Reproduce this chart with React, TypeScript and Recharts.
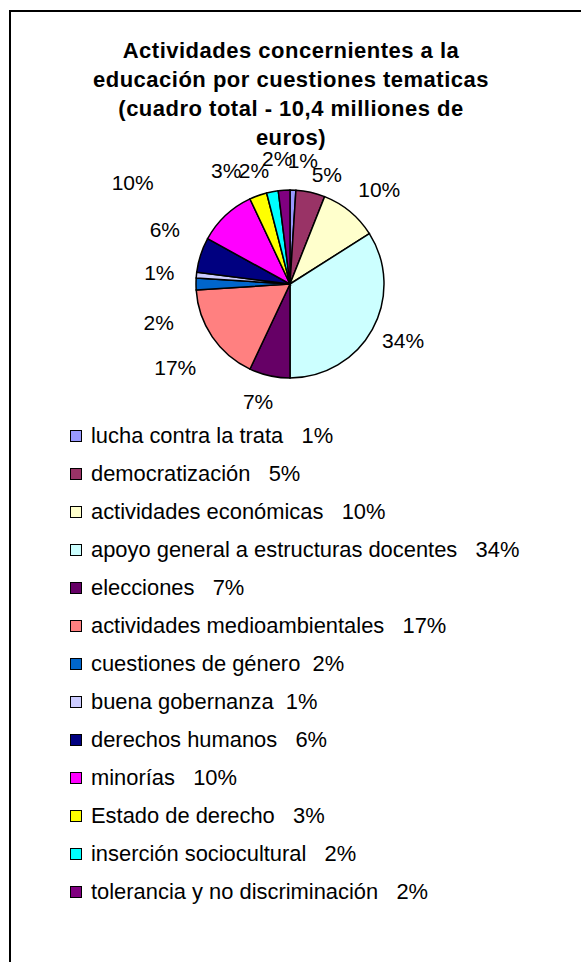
import React from "react";
import { PieChart, Pie, Cell } from "recharts";

const titleLines = [
  "Actividades concernientes a la",
  "educación por cuestiones tematicas",
  "(cuadro total - 10,4 milliones de",
  "euros)",
];

const names = [
  "lucha contra la trata",
  "democratización",
  "actividades económicas",
  "apoyo general a estructuras docentes",
  "elecciones",
  "actividades medioambientales",
  "cuestiones de género",
  "buena gobernanza",
  "derechos humanos",
  "minorías",
  "Estado de derecho",
  "inserción sociocultural",
  "tolerancia y no discriminación",
];

const values = [1, 5, 10, 34, 7, 17, 2, 1, 6, 10, 3, 2, 2];

const colors = [
  "#9999FF",
  "#993366",
  "#FFFFCC",
  "#CCFFFF",
  "#660066",
  "#FF8080",
  "#0066CC",
  "#CCCCFF",
  "#000080",
  "#FF00FF",
  "#FFFF00",
  "#00FFFF",
  "#800080",
];

const legendGaps = ["   ", "   ", "   ", "   ", "   ", "   ", "  ", "  ", "   ", "   ", "   ", "   ", "   "];

// layout nudges for the percentage labels (Excel moved them to avoid overlaps)
const labelNudges: [number, number][] = [
  [9, -8],
  [10, 4],
  [7, -5],
  [0, 1],
  [-5, 4],
  [-8, 18],
  [-8, 38],
  [-8, -1],
  [-8, -19],
  [-69, -17],
  [-22, -4],
  [-13, 0],
  [-5, -10],
];

const data = names.map((name, i) => ({ name, value: values[i] }));

const FONT = "'Liberation Sans', Arial, Helvetica, sans-serif";
const RADIAN = Math.PI / 180;

const renderLabel = (props: any) => {
  const { cx, cy, midAngle, outerRadius, index, value } = props;
  const dx = Math.cos(-midAngle * RADIAN);
  const dy = Math.sin(-midAngle * RADIAN);
  const r = outerRadius + 14;
  const text = `${value}%`;
  const w = (text.length - 1) * 11.7 + 18.7;
  const h = 16;
  const nx = labelNudges[index] ? labelNudges[index][0] : 0;
  const ny = labelNudges[index] ? labelNudges[index][1] : 0;
  const x = cx + r * dx + (dx * w) / 2 + nx;
  const y = cy + r * dy + (dy * h) / 2 + ny;
  return (
    <text
      x={x}
      y={y}
      textAnchor="middle"
      dominantBaseline="central"
      fontFamily={FONT}
      fontSize={21}
      fill="#000"
    >
      {text}
    </text>
  );
};

export default function App() {
  return (
    <div
      style={{
        position: "absolute",
        left: 0,
        top: 0,
        width: 581,
        height: 962,
        overflow: "hidden",
        background: "#fff",
        fontFamily: FONT,
      }}
    >
      <div
        style={{
          position: "absolute",
          left: 9,
          top: 10,
          width: 620,
          height: 1000,
          border: "2px solid #000",
          boxSizing: "border-box",
        }}
      />
      <div
        style={{
          position: "absolute",
          left: 0,
          top: 36,
          width: 582,
          textAlign: "center",
          fontWeight: "bold",
          fontSize: 22,
          letterSpacing: 0.5,
          lineHeight: "29px",
          color: "#000",
        }}
      >
        {titleLines.map((t, i) => (
          <div key={i}>{t}</div>
        ))}
      </div>
      <div style={{ position: "absolute", left: 0, top: 0 }}>
        <PieChart width={581} height={962} margin={{ top: 0, right: 0, bottom: 0, left: 0 }}>
          <Pie
            data={data}
            dataKey="value"
            nameKey="name"
            cx={290}
            cy={284}
            outerRadius={94}
            startAngle={90}
            endAngle={-270}
            stroke="#000"
            strokeWidth={1.5}
            label={renderLabel}
            labelLine={false}
            isAnimationActive={false}
          >
            {data.map((d, i) => (
              <Cell key={i} fill={colors[i]} />
            ))}
          </Pie>
        </PieChart>
      </div>
      <div style={{ position: "absolute", left: 70, top: 417 }}>
        {data.map((d, i) => (
          <div
            key={i}
            style={{
              height: 38,
              display: "flex",
              alignItems: "center",
              fontSize: 21.9,
              whiteSpace: "pre",
              color: "#000",
            }}
          >
            <span
              style={{
                display: "inline-block",
                width: 10,
                height: 10,
                border: "1.5px solid #000",
                background: colors[i],
                marginRight: 9,
              }}
            />
            <span>{`${d.name}${legendGaps[i]}${d.value}%`}</span>
          </div>
        ))}
      </div>
    </div>
  );
}
